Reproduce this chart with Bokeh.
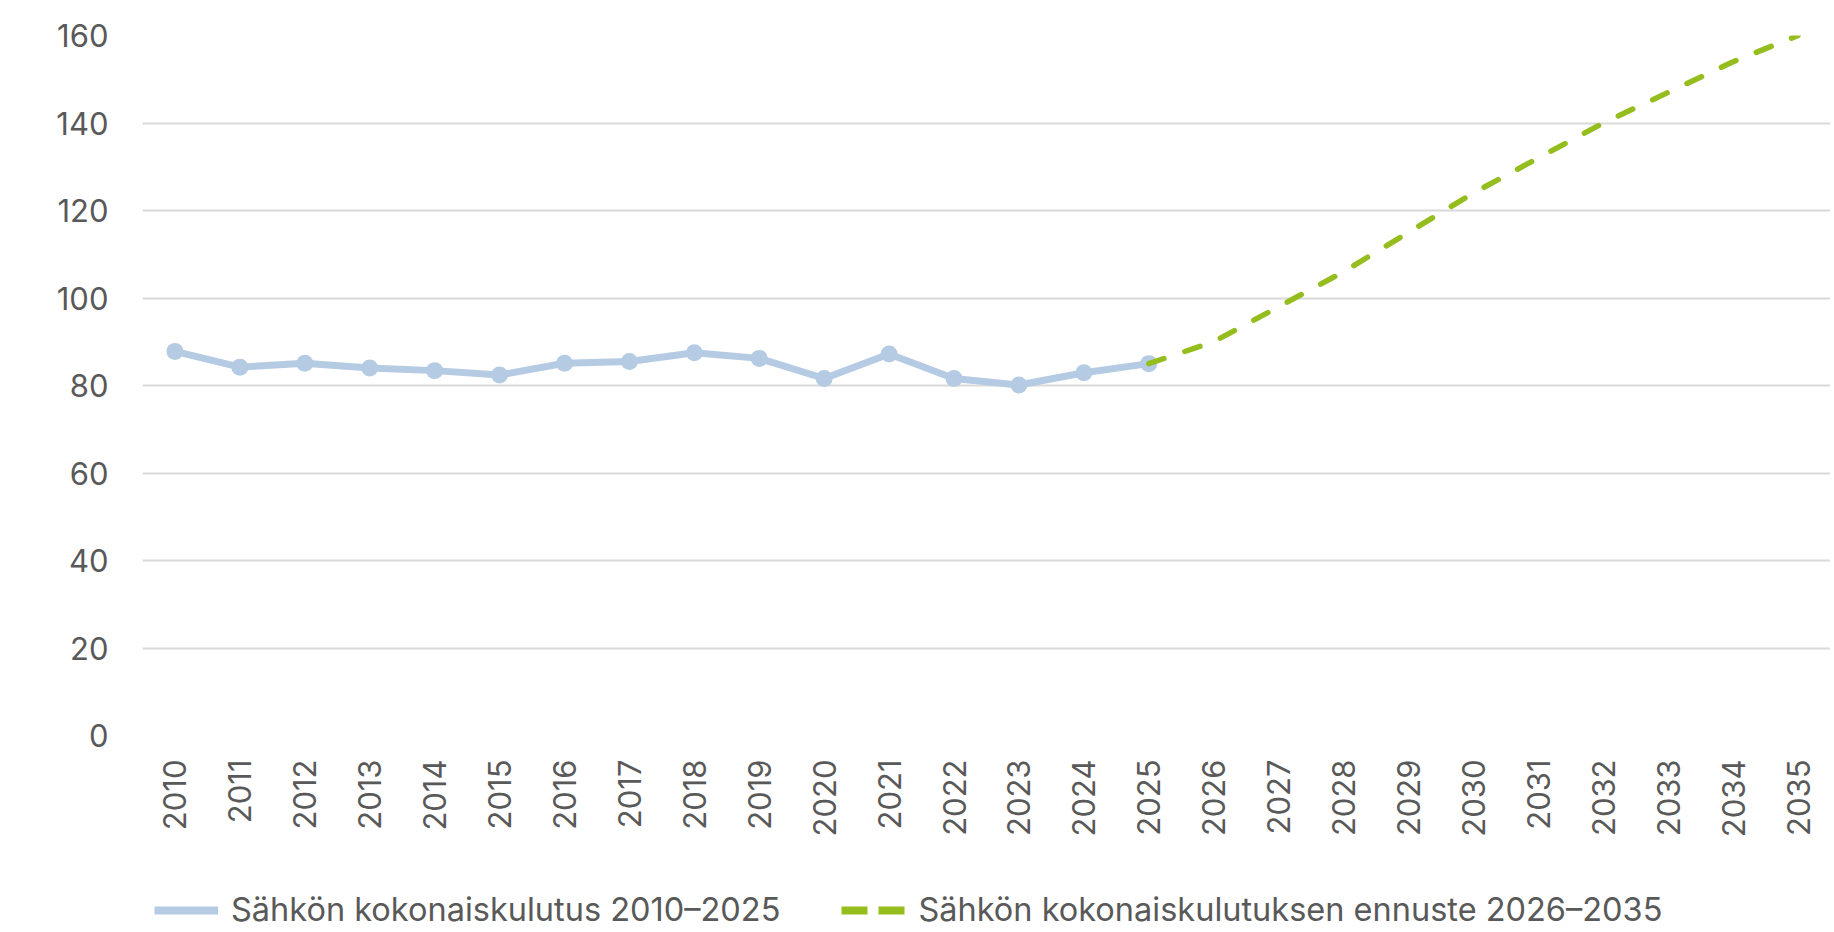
from bokeh.plotting import figure
from bokeh.layouts import column
from bokeh.models import FactorRange, Range1d, FixedTicker, Legend, LegendItem
from bokeh.embed import file_html
from bokeh.resources import INLINE

years = [str(y) for y in range(2010, 2036)]
hist_years = [str(y) for y in range(2010, 2026)]
hist_values = [87.8, 84.2, 85.1, 84.0, 83.4, 82.4, 85.1, 85.5, 87.5, 86.2,
               81.6, 87.2, 81.6, 80.1, 82.9, 85.0]
fc_years = [str(y) for y in range(2025, 2036)]
fc_values = [85.0, 90.0, 98.0, 106.0, 115.0, 124.0, 132.0, 140.0, 147.0, 154.0, 160.0]
y_ticks = [0, 20, 40, 60, 80, 100, 120, 140, 160]
hist_label = "Sähkön kokonaiskulutus 2010–2025"
fc_label = "Sähkön kokonaiskulutuksen ennuste 2026–2035"

FONT = "Inter"
TXT = "#595959"
BLUE = "#B4CBE3"
GREEN = "#95BD1E"

p = figure(width=1830, height=872, x_range=FactorRange(*years), y_range=Range1d(0, 160),
           output_backend="svg", toolbar_location=None,
           min_border_left=142, min_border_right=0, min_border_top=35, min_border_bottom=137)
p.outline_line_color = None
p.background_fill_color = "white"

p.xgrid.grid_line_color = None
p.ygrid.grid_line_color = "#D9D9D9"
p.ygrid.grid_line_width = 2
p.ygrid.ticker = FixedTicker(ticks=y_ticks)

p.yaxis.ticker = FixedTicker(ticks=y_ticks)
for ax in (p.xaxis[0], p.yaxis[0]):
    ax.axis_line_color = None
    ax.major_tick_line_color = None
    ax.minor_tick_line_color = None
    ax.major_tick_in = 0
    ax.major_tick_out = 0
    ax.major_label_text_font = FONT
    ax.major_label_text_font_size = "31px"
    ax.major_label_text_color = TXT
p.yaxis.major_label_standoff = 34
p.xaxis.major_label_standoff = 24
p.xaxis.major_label_orientation = 1.5707963

p.line(hist_years, hist_values, line_color=BLUE, line_width=7, line_join="round")
p.scatter(hist_years, hist_values, size=17, fill_color=BLUE, line_color=None)
p.line(fc_years, fc_values, line_color=GREEN, line_width=5.5, line_dash="16 22",
       line_cap="round")

# legend strip below the chart (its frame is aligned with the chart's frame)
lg = figure(width=1830, height=60, x_range=Range1d(0, 1), y_range=Range1d(0, 1),
            output_backend="svg", toolbar_location=None,
            min_border_left=0, min_border_right=0, min_border_top=0, min_border_bottom=0)
lg.outline_line_color = None
lg.axis.visible = False
lg.grid.visible = False
# legend sample renderers, kept outside the visible range
lr_hist = lg.line([-5, -4], [-5, -4], line_color=BLUE, line_width=8)
lr_fc = lg.line([-5, -4], [-5, -4], line_color=GREEN, line_width=8, line_dash="26 11")

legend = Legend(items=[LegendItem(label=hist_label, renderers=[lr_hist]),
                       LegendItem(label=fc_label, renderers=[lr_fc])],
                orientation="horizontal", location=(12, 3),
                glyph_width=64, glyph_height=34, label_height=34,
                label_standoff=13, spacing=61, padding=0, margin=0,
                label_text_font=FONT, label_text_font_size="32.5px",
                label_text_color=TXT, border_line_color=None,
                background_fill_alpha=0)
lg.add_layout(legend, "center")

open("out.html", "w").write(file_html(column(p, lg, spacing=0), INLINE))
